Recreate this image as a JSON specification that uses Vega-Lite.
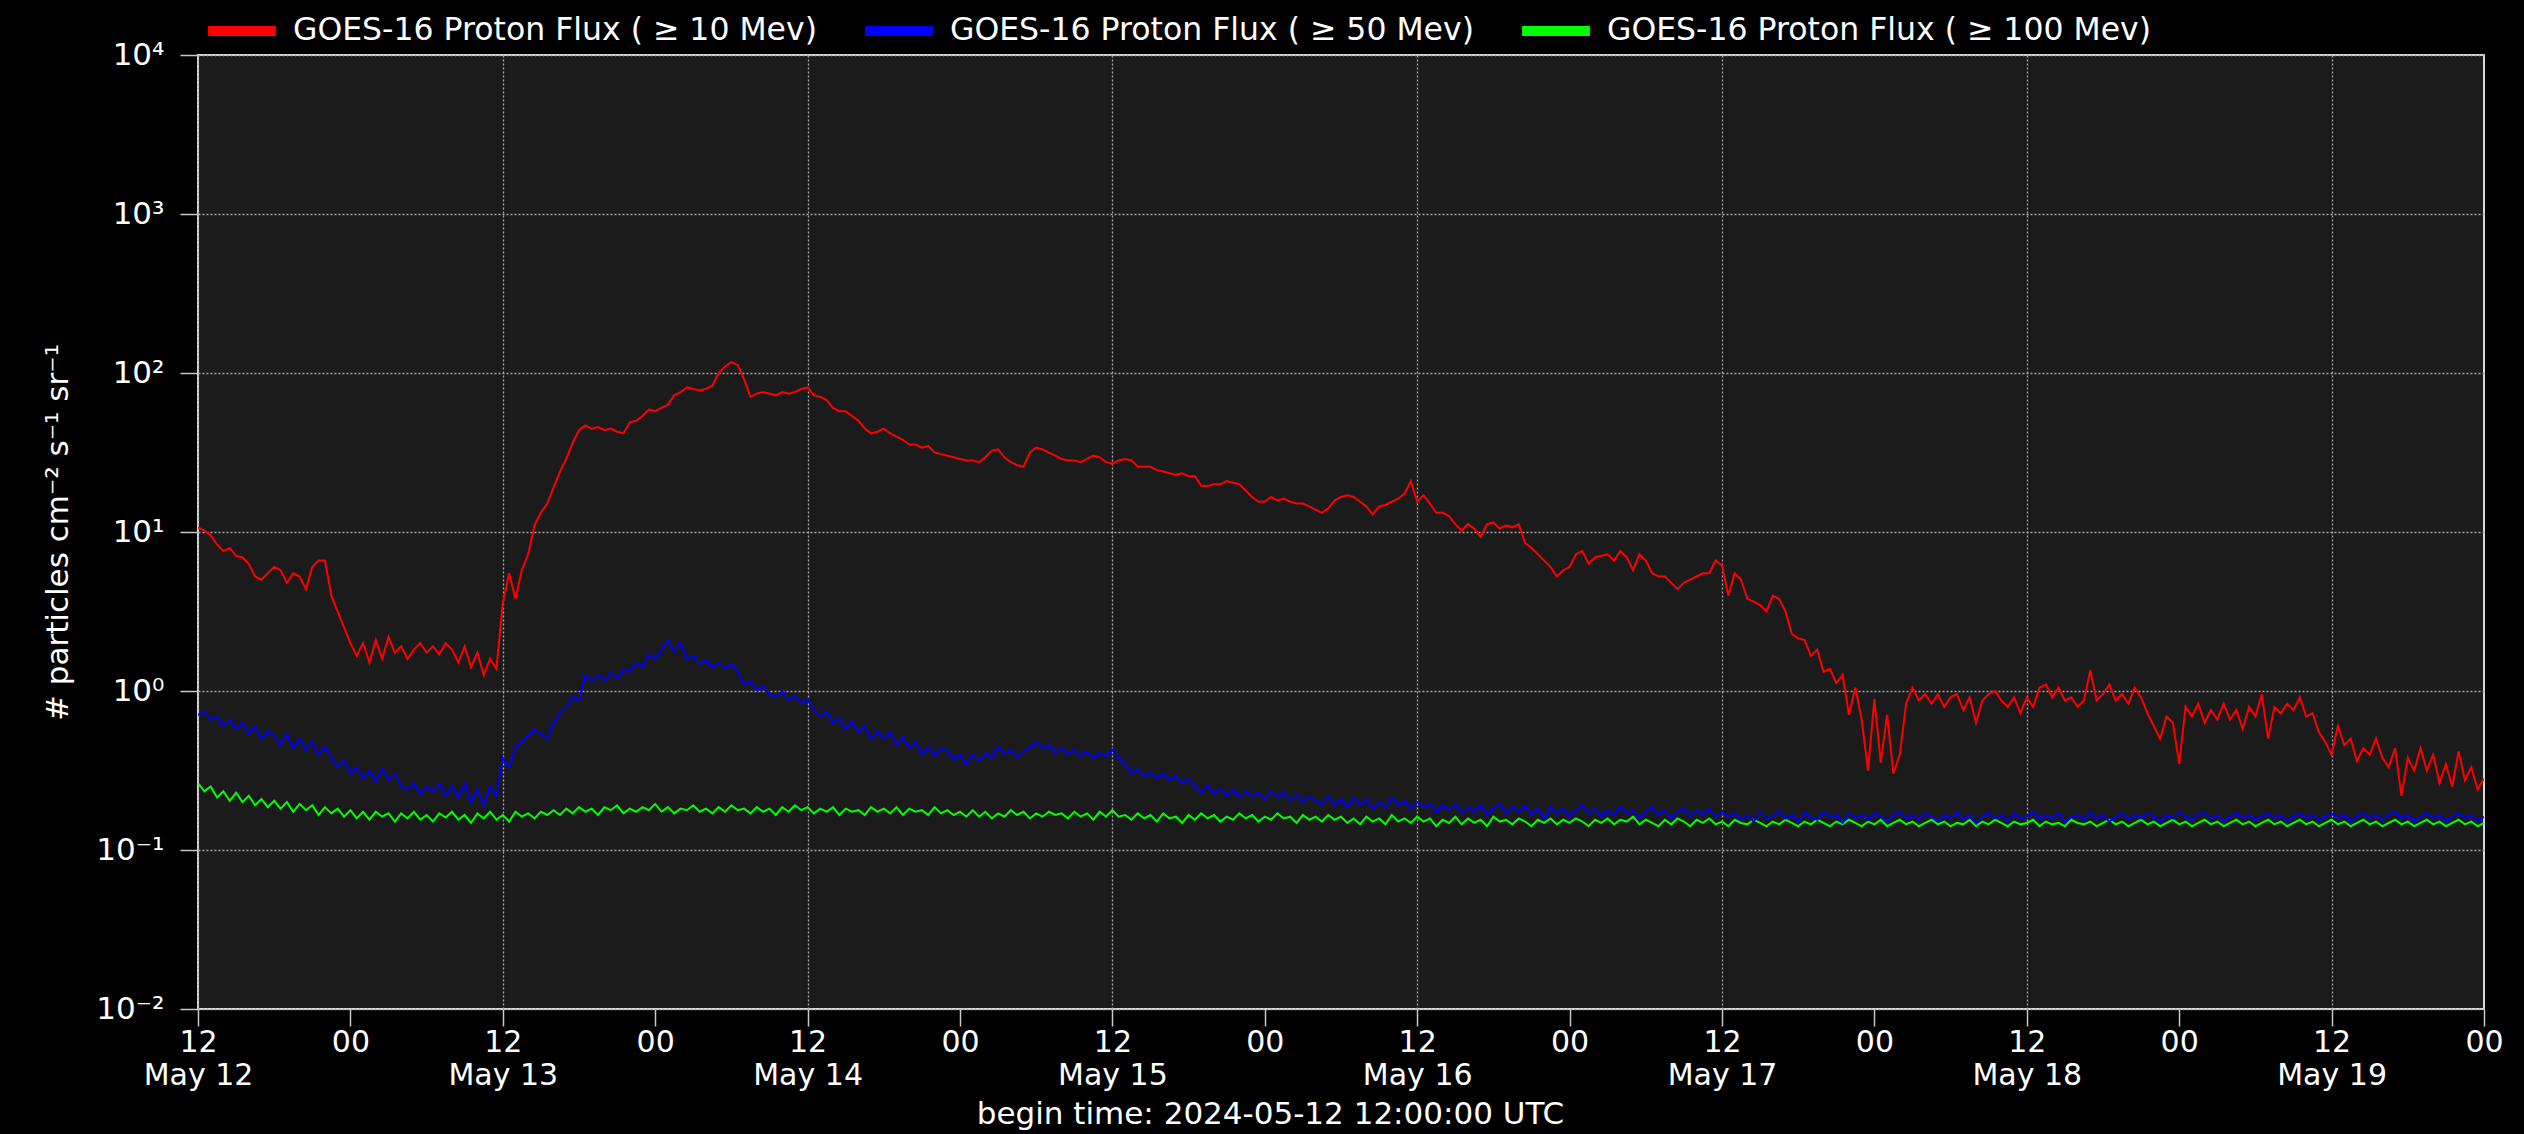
{
"$schema": "https://vega.github.io/schema/vega-lite/v6.json",
"width": 2286, "height": 954,
"autosize": {"type": "none"},
"padding": {"left": 198, "top": 55, "right": 40, "bottom": 125},
"background": "#000000",
"config": {
  "font": "DejaVu Sans",
  "view": {"fill": "#1b1b1b", "stroke": "#d8d8d8", "strokeWidth": 2},
  "axis": {"labelColor": "#ffffff", "titleColor": "#ffffff", "titleFontWeight": "normal", "domain": false, "gridColor": "#a8a8a8", "gridDash": [2, 2], "gridWidth": 1.3, "tickColor": "#c8c8c8", "tickWidth": 1.5}
},
"data": {"values": [
{"t":"2024-05-12T12:00Z","a":10.7,"b":0.708,"c":0.263},
{"t":"2024-05-12T12:30Z","a":10.2,"b":0.741,"c":0.234},
{"t":"2024-05-12T13:00Z","a":9.55,"b":0.661,"c":0.251},
{"t":"2024-05-12T13:30Z","a":8.32,"b":0.692,"c":0.214},
{"t":"2024-05-12T14:00Z","a":7.59,"b":0.603,"c":0.234},
{"t":"2024-05-12T14:30Z","a":7.94,"b":0.661,"c":0.204},
{"t":"2024-05-12T15:00Z","a":7.08,"b":0.575,"c":0.229},
{"t":"2024-05-12T15:30Z","a":6.92,"b":0.631,"c":0.200},
{"t":"2024-05-12T16:00Z","a":6.31,"b":0.537,"c":0.219},
{"t":"2024-05-12T16:30Z","a":5.25,"b":0.603,"c":0.191},
{"t":"2024-05-12T17:00Z","a":5.01,"b":0.501,"c":0.209},
{"t":"2024-05-12T17:30Z","a":5.50,"b":0.562,"c":0.186},
{"t":"2024-05-12T18:00Z","a":6.03,"b":0.525,"c":0.204},
{"t":"2024-05-12T18:30Z","a":5.75,"b":0.457,"c":0.182},
{"t":"2024-05-12T19:00Z","a":4.79,"b":0.537,"c":0.200},
{"t":"2024-05-12T19:30Z","a":5.50,"b":0.437,"c":0.174},
{"t":"2024-05-12T20:00Z","a":5.25,"b":0.501,"c":0.195},
{"t":"2024-05-12T20:30Z","a":4.37,"b":0.427,"c":0.178},
{"t":"2024-05-12T21:00Z","a":6.03,"b":0.479,"c":0.191},
{"t":"2024-05-12T21:30Z","a":6.61,"b":0.398,"c":0.166},
{"t":"2024-05-12T22:00Z","a":6.61,"b":0.447,"c":0.186},
{"t":"2024-05-12T22:30Z","a":3.98,"b":0.380,"c":0.170},
{"t":"2024-05-12T23:00Z","a":3.16,"b":0.331,"c":0.182},
{"t":"2024-05-12T23:30Z","a":2.51,"b":0.363,"c":0.162},
{"t":"2024-05-13T00:00Z","a":2.00,"b":0.302,"c":0.178},
{"t":"2024-05-13T00:30Z","a":1.66,"b":0.331,"c":0.158},
{"t":"2024-05-13T01:00Z","a":2.00,"b":0.282,"c":0.174},
{"t":"2024-05-13T01:30Z","a":1.51,"b":0.316,"c":0.155},
{"t":"2024-05-13T02:00Z","a":2.09,"b":0.269,"c":0.174},
{"t":"2024-05-13T02:30Z","a":1.59,"b":0.324,"c":0.162},
{"t":"2024-05-13T03:00Z","a":2.19,"b":0.275,"c":0.170},
{"t":"2024-05-13T03:30Z","a":1.74,"b":0.302,"c":0.151},
{"t":"2024-05-13T04:00Z","a":1.91,"b":0.251,"c":0.170},
{"t":"2024-05-13T04:30Z","a":1.59,"b":0.240,"c":0.158},
{"t":"2024-05-13T05:00Z","a":1.82,"b":0.263,"c":0.174},
{"t":"2024-05-13T05:30Z","a":2.00,"b":0.224,"c":0.155},
{"t":"2024-05-13T06:00Z","a":1.74,"b":0.251,"c":0.166},
{"t":"2024-05-13T06:30Z","a":1.91,"b":0.234,"c":0.151},
{"t":"2024-05-13T07:00Z","a":1.70,"b":0.263,"c":0.170},
{"t":"2024-05-13T07:30Z","a":2.00,"b":0.219,"c":0.160},
{"t":"2024-05-13T08:00Z","a":1.82,"b":0.251,"c":0.174},
{"t":"2024-05-13T08:30Z","a":1.51,"b":0.214,"c":0.155},
{"t":"2024-05-13T09:00Z","a":1.91,"b":0.263,"c":0.166},
{"t":"2024-05-13T09:30Z","a":1.41,"b":0.200,"c":0.148},
{"t":"2024-05-13T10:00Z","a":1.74,"b":0.240,"c":0.170},
{"t":"2024-05-13T10:30Z","a":1.26,"b":0.191,"c":0.158},
{"t":"2024-05-13T11:00Z","a":1.59,"b":0.251,"c":0.174},
{"t":"2024-05-13T11:30Z","a":1.38,"b":0.219,"c":0.155},
{"t":"2024-05-13T12:00Z","a":3.55,"b":0.380,"c":0.166},
{"t":"2024-05-13T12:30Z","a":5.50,"b":0.331,"c":0.151},
{"t":"2024-05-13T13:00Z","a":3.80,"b":0.437,"c":0.174},
{"t":"2024-05-13T13:30Z","a":5.75,"b":0.479,"c":0.162},
{"t":"2024-05-13T14:00Z","a":7.24,"b":0.525,"c":0.170},
{"t":"2024-05-13T14:30Z","a":11.0,"b":0.575,"c":0.158},
{"t":"2024-05-13T15:00Z","a":13.2,"b":0.537,"c":0.174},
{"t":"2024-05-13T15:30Z","a":15.1,"b":0.501,"c":0.166},
{"t":"2024-05-13T16:00Z","a":19.1,"b":0.631,"c":0.178},
{"t":"2024-05-13T16:30Z","a":24.0,"b":0.724,"c":0.166},
{"t":"2024-05-13T17:00Z","a":28.8,"b":0.794,"c":0.182},
{"t":"2024-05-13T17:30Z","a":36.3,"b":0.912,"c":0.170},
{"t":"2024-05-13T18:00Z","a":43.7,"b":0.871,"c":0.186},
{"t":"2024-05-13T18:30Z","a":46.8,"b":1.26,"c":0.174},
{"t":"2024-05-13T19:00Z","a":44.7,"b":1.15,"c":0.182},
{"t":"2024-05-13T19:30Z","a":45.7,"b":1.26,"c":0.166},
{"t":"2024-05-13T20:00Z","a":43.7,"b":1.17,"c":0.186},
{"t":"2024-05-13T20:30Z","a":44.7,"b":1.29,"c":0.178},
{"t":"2024-05-13T21:00Z","a":42.7,"b":1.20,"c":0.191},
{"t":"2024-05-13T21:30Z","a":41.7,"b":1.35,"c":0.170},
{"t":"2024-05-13T22:00Z","a":49.0,"b":1.32,"c":0.182},
{"t":"2024-05-13T22:30Z","a":50.1,"b":1.51,"c":0.174},
{"t":"2024-05-13T23:00Z","a":53.7,"b":1.41,"c":0.186},
{"t":"2024-05-13T23:30Z","a":58.9,"b":1.70,"c":0.178},
{"t":"2024-05-14T00:00Z","a":57.5,"b":1.59,"c":0.195},
{"t":"2024-05-14T00:30Z","a":60.3,"b":1.82,"c":0.174},
{"t":"2024-05-14T01:00Z","a":63.1,"b":2.09,"c":0.186},
{"t":"2024-05-14T01:30Z","a":72.4,"b":1.78,"c":0.170},
{"t":"2024-05-14T02:00Z","a":75.9,"b":2.00,"c":0.182},
{"t":"2024-05-14T02:30Z","a":81.3,"b":1.59,"c":0.178},
{"t":"2024-05-14T03:00Z","a":79.4,"b":1.66,"c":0.191},
{"t":"2024-05-14T03:30Z","a":77.6,"b":1.48,"c":0.174},
{"t":"2024-05-14T04:00Z","a":79.4,"b":1.55,"c":0.182},
{"t":"2024-05-14T04:30Z","a":83.2,"b":1.41,"c":0.170},
{"t":"2024-05-14T05:00Z","a":100,"b":1.51,"c":0.186},
{"t":"2024-05-14T05:30Z","a":110,"b":1.38,"c":0.174},
{"t":"2024-05-14T06:00Z","a":117,"b":1.48,"c":0.191},
{"t":"2024-05-14T06:30Z","a":112,"b":1.32,"c":0.178},
{"t":"2024-05-14T07:00Z","a":91.2,"b":1.10,"c":0.182},
{"t":"2024-05-14T07:30Z","a":70.8,"b":1.15,"c":0.170},
{"t":"2024-05-14T08:00Z","a":74.1,"b":1.02,"c":0.186},
{"t":"2024-05-14T08:30Z","a":75.9,"b":1.07,"c":0.174},
{"t":"2024-05-14T09:00Z","a":74.1,"b":0.955,"c":0.182},
{"t":"2024-05-14T09:30Z","a":72.4,"b":0.912,"c":0.166},
{"t":"2024-05-14T10:00Z","a":75.9,"b":1.00,"c":0.186},
{"t":"2024-05-14T10:30Z","a":74.1,"b":0.871,"c":0.174},
{"t":"2024-05-14T11:00Z","a":75.9,"b":0.933,"c":0.191},
{"t":"2024-05-14T11:30Z","a":79.4,"b":0.832,"c":0.178},
{"t":"2024-05-14T12:00Z","a":81.3,"b":0.891,"c":0.186},
{"t":"2024-05-14T12:30Z","a":72.4,"b":0.759,"c":0.170},
{"t":"2024-05-14T13:00Z","a":70.8,"b":0.692,"c":0.182},
{"t":"2024-05-14T13:30Z","a":67.6,"b":0.741,"c":0.174},
{"t":"2024-05-14T14:00Z","a":60.3,"b":0.631,"c":0.186},
{"t":"2024-05-14T14:30Z","a":57.5,"b":0.676,"c":0.166},
{"t":"2024-05-14T15:00Z","a":57.5,"b":0.575,"c":0.182},
{"t":"2024-05-14T15:30Z","a":53.7,"b":0.646,"c":0.174},
{"t":"2024-05-14T16:00Z","a":50.1,"b":0.550,"c":0.178},
{"t":"2024-05-14T16:30Z","a":44.7,"b":0.603,"c":0.166},
{"t":"2024-05-14T17:00Z","a":41.7,"b":0.501,"c":0.186},
{"t":"2024-05-14T17:30Z","a":42.7,"b":0.562,"c":0.174},
{"t":"2024-05-14T18:00Z","a":44.7,"b":0.501,"c":0.182},
{"t":"2024-05-14T18:30Z","a":41.7,"b":0.550,"c":0.170},
{"t":"2024-05-14T19:00Z","a":39.8,"b":0.457,"c":0.186},
{"t":"2024-05-14T19:30Z","a":38.0,"b":0.513,"c":0.166},
{"t":"2024-05-14T20:00Z","a":35.5,"b":0.437,"c":0.182},
{"t":"2024-05-14T20:30Z","a":35.5,"b":0.479,"c":0.174},
{"t":"2024-05-14T21:00Z","a":33.9,"b":0.398,"c":0.178},
{"t":"2024-05-14T21:30Z","a":34.7,"b":0.447,"c":0.166},
{"t":"2024-05-14T22:00Z","a":31.6,"b":0.389,"c":0.186},
{"t":"2024-05-14T22:30Z","a":30.9,"b":0.437,"c":0.170},
{"t":"2024-05-14T23:00Z","a":30.2,"b":0.417,"c":0.178},
{"t":"2024-05-14T23:30Z","a":29.5,"b":0.372,"c":0.166},
{"t":"2024-05-15T00:00Z","a":28.8,"b":0.398,"c":0.174},
{"t":"2024-05-15T00:30Z","a":28.2,"b":0.347,"c":0.162},
{"t":"2024-05-15T01:00Z","a":28.2,"b":0.398,"c":0.178},
{"t":"2024-05-15T01:30Z","a":27.5,"b":0.363,"c":0.162},
{"t":"2024-05-15T02:00Z","a":29.5,"b":0.407,"c":0.174},
{"t":"2024-05-15T02:30Z","a":32.4,"b":0.380,"c":0.158},
{"t":"2024-05-15T03:00Z","a":33.1,"b":0.447,"c":0.170},
{"t":"2024-05-15T03:30Z","a":29.5,"b":0.398,"c":0.162},
{"t":"2024-05-15T04:00Z","a":27.5,"b":0.427,"c":0.178},
{"t":"2024-05-15T04:30Z","a":26.3,"b":0.380,"c":0.166},
{"t":"2024-05-15T05:00Z","a":25.7,"b":0.417,"c":0.174},
{"t":"2024-05-15T05:30Z","a":31.6,"b":0.437,"c":0.158},
{"t":"2024-05-15T06:00Z","a":33.9,"b":0.479,"c":0.170},
{"t":"2024-05-15T06:30Z","a":33.1,"b":0.437,"c":0.162},
{"t":"2024-05-15T07:00Z","a":31.6,"b":0.457,"c":0.174},
{"t":"2024-05-15T07:30Z","a":30.2,"b":0.407,"c":0.166},
{"t":"2024-05-15T08:00Z","a":28.8,"b":0.437,"c":0.170},
{"t":"2024-05-15T08:30Z","a":28.2,"b":0.398,"c":0.158},
{"t":"2024-05-15T09:00Z","a":28.2,"b":0.427,"c":0.174},
{"t":"2024-05-15T09:30Z","a":27.5,"b":0.389,"c":0.162},
{"t":"2024-05-15T10:00Z","a":28.8,"b":0.417,"c":0.170},
{"t":"2024-05-15T10:30Z","a":30.2,"b":0.380,"c":0.155},
{"t":"2024-05-15T11:00Z","a":29.5,"b":0.407,"c":0.174},
{"t":"2024-05-15T11:30Z","a":27.5,"b":0.389,"c":0.162},
{"t":"2024-05-15T12:00Z","a":26.9,"b":0.427,"c":0.178},
{"t":"2024-05-15T12:30Z","a":28.2,"b":0.380,"c":0.162},
{"t":"2024-05-15T13:00Z","a":28.8,"b":0.347,"c":0.166},
{"t":"2024-05-15T13:30Z","a":28.2,"b":0.302,"c":0.155},
{"t":"2024-05-15T14:00Z","a":25.7,"b":0.324,"c":0.170},
{"t":"2024-05-15T14:30Z","a":25.7,"b":0.288,"c":0.158},
{"t":"2024-05-15T15:00Z","a":25.7,"b":0.309,"c":0.166},
{"t":"2024-05-15T15:30Z","a":24.5,"b":0.282,"c":0.151},
{"t":"2024-05-15T16:00Z","a":24.0,"b":0.302,"c":0.170},
{"t":"2024-05-15T16:30Z","a":23.4,"b":0.275,"c":0.158},
{"t":"2024-05-15T17:00Z","a":22.9,"b":0.295,"c":0.162},
{"t":"2024-05-15T17:30Z","a":23.4,"b":0.263,"c":0.148},
{"t":"2024-05-15T18:00Z","a":22.4,"b":0.282,"c":0.166},
{"t":"2024-05-15T18:30Z","a":22.4,"b":0.251,"c":0.155},
{"t":"2024-05-15T19:00Z","a":19.5,"b":0.229,"c":0.170},
{"t":"2024-05-15T19:30Z","a":19.5,"b":0.257,"c":0.158},
{"t":"2024-05-15T20:00Z","a":20.0,"b":0.224,"c":0.166},
{"t":"2024-05-15T20:30Z","a":20.0,"b":0.245,"c":0.151},
{"t":"2024-05-15T21:00Z","a":20.9,"b":0.219,"c":0.162},
{"t":"2024-05-15T21:30Z","a":20.4,"b":0.240,"c":0.155},
{"t":"2024-05-15T22:00Z","a":20.0,"b":0.214,"c":0.170},
{"t":"2024-05-15T22:30Z","a":18.2,"b":0.234,"c":0.158},
{"t":"2024-05-15T23:00Z","a":16.6,"b":0.219,"c":0.166},
{"t":"2024-05-15T23:30Z","a":15.5,"b":0.229,"c":0.151},
{"t":"2024-05-16T00:00Z","a":15.5,"b":0.209,"c":0.162},
{"t":"2024-05-16T00:30Z","a":16.6,"b":0.234,"c":0.155},
{"t":"2024-05-16T01:00Z","a":15.8,"b":0.214,"c":0.170},
{"t":"2024-05-16T01:30Z","a":16.2,"b":0.229,"c":0.158},
{"t":"2024-05-16T02:00Z","a":15.5,"b":0.204,"c":0.162},
{"t":"2024-05-16T02:30Z","a":15.1,"b":0.224,"c":0.148},
{"t":"2024-05-16T03:00Z","a":15.1,"b":0.200,"c":0.166},
{"t":"2024-05-16T03:30Z","a":14.5,"b":0.219,"c":0.155},
{"t":"2024-05-16T04:00Z","a":13.8,"b":0.204,"c":0.162},
{"t":"2024-05-16T04:30Z","a":13.2,"b":0.195,"c":0.151},
{"t":"2024-05-16T05:00Z","a":14.1,"b":0.219,"c":0.166},
{"t":"2024-05-16T05:30Z","a":15.8,"b":0.191,"c":0.155},
{"t":"2024-05-16T06:00Z","a":16.6,"b":0.209,"c":0.162},
{"t":"2024-05-16T06:30Z","a":17.0,"b":0.186,"c":0.148},
{"t":"2024-05-16T07:00Z","a":16.6,"b":0.214,"c":0.158},
{"t":"2024-05-16T07:30Z","a":15.5,"b":0.191,"c":0.145},
{"t":"2024-05-16T08:00Z","a":14.5,"b":0.209,"c":0.162},
{"t":"2024-05-16T08:30Z","a":12.9,"b":0.182,"c":0.151},
{"t":"2024-05-16T09:00Z","a":14.5,"b":0.200,"c":0.158},
{"t":"2024-05-16T09:30Z","a":14.8,"b":0.186,"c":0.145},
{"t":"2024-05-16T10:00Z","a":15.5,"b":0.214,"c":0.166},
{"t":"2024-05-16T10:30Z","a":16.2,"b":0.191,"c":0.151},
{"t":"2024-05-16T11:00Z","a":17.4,"b":0.204,"c":0.158},
{"t":"2024-05-16T11:30Z","a":20.9,"b":0.182,"c":0.148},
{"t":"2024-05-16T12:00Z","a":15.5,"b":0.200,"c":0.162},
{"t":"2024-05-16T12:30Z","a":17.0,"b":0.186,"c":0.151},
{"t":"2024-05-16T13:00Z","a":15.1,"b":0.195,"c":0.158},
{"t":"2024-05-16T13:30Z","a":13.2,"b":0.174,"c":0.141},
{"t":"2024-05-16T14:00Z","a":13.2,"b":0.191,"c":0.155},
{"t":"2024-05-16T14:30Z","a":12.6,"b":0.178,"c":0.148},
{"t":"2024-05-16T15:00Z","a":11.2,"b":0.195,"c":0.162},
{"t":"2024-05-16T15:30Z","a":10.2,"b":0.170,"c":0.145},
{"t":"2024-05-16T16:00Z","a":11.2,"b":0.186,"c":0.158},
{"t":"2024-05-16T16:30Z","a":10.5,"b":0.174,"c":0.148},
{"t":"2024-05-16T17:00Z","a":9.33,"b":0.191,"c":0.155},
{"t":"2024-05-16T17:30Z","a":11.2,"b":0.166,"c":0.141},
{"t":"2024-05-16T18:00Z","a":11.5,"b":0.182,"c":0.162},
{"t":"2024-05-16T18:30Z","a":10.5,"b":0.195,"c":0.151},
{"t":"2024-05-16T19:00Z","a":11.0,"b":0.170,"c":0.155},
{"t":"2024-05-16T19:30Z","a":10.7,"b":0.186,"c":0.145},
{"t":"2024-05-16T20:00Z","a":11.2,"b":0.174,"c":0.158},
{"t":"2024-05-16T20:30Z","a":8.51,"b":0.191,"c":0.151},
{"t":"2024-05-16T21:00Z","a":7.94,"b":0.166,"c":0.141},
{"t":"2024-05-16T21:30Z","a":7.24,"b":0.182,"c":0.155},
{"t":"2024-05-16T22:00Z","a":6.61,"b":0.158,"c":0.148},
{"t":"2024-05-16T22:30Z","a":6.03,"b":0.186,"c":0.158},
{"t":"2024-05-16T23:00Z","a":5.25,"b":0.170,"c":0.145},
{"t":"2024-05-16T23:30Z","a":5.75,"b":0.182,"c":0.155},
{"t":"2024-05-17T00:00Z","a":6.03,"b":0.162,"c":0.148},
{"t":"2024-05-17T00:30Z","a":7.24,"b":0.178,"c":0.158},
{"t":"2024-05-17T01:00Z","a":7.59,"b":0.191,"c":0.151},
{"t":"2024-05-17T01:30Z","a":6.31,"b":0.170,"c":0.141},
{"t":"2024-05-17T02:00Z","a":6.92,"b":0.182,"c":0.155},
{"t":"2024-05-17T02:30Z","a":7.08,"b":0.162,"c":0.148},
{"t":"2024-05-17T03:00Z","a":7.24,"b":0.178,"c":0.158},
{"t":"2024-05-17T03:30Z","a":6.61,"b":0.166,"c":0.145},
{"t":"2024-05-17T04:00Z","a":7.59,"b":0.186,"c":0.155},
{"t":"2024-05-17T04:30Z","a":6.92,"b":0.170,"c":0.151},
{"t":"2024-05-17T05:00Z","a":5.75,"b":0.178,"c":0.162},
{"t":"2024-05-17T05:30Z","a":7.24,"b":0.158,"c":0.145},
{"t":"2024-05-17T06:00Z","a":6.61,"b":0.174,"c":0.155},
{"t":"2024-05-17T06:30Z","a":5.50,"b":0.186,"c":0.148},
{"t":"2024-05-17T07:00Z","a":5.25,"b":0.166,"c":0.141},
{"t":"2024-05-17T07:30Z","a":5.25,"b":0.178,"c":0.155},
{"t":"2024-05-17T08:00Z","a":4.79,"b":0.158,"c":0.145},
{"t":"2024-05-17T08:30Z","a":4.37,"b":0.174,"c":0.158},
{"t":"2024-05-17T09:00Z","a":4.79,"b":0.182,"c":0.151},
{"t":"2024-05-17T09:30Z","a":5.01,"b":0.162,"c":0.141},
{"t":"2024-05-17T10:00Z","a":5.25,"b":0.178,"c":0.155},
{"t":"2024-05-17T10:30Z","a":5.50,"b":0.166,"c":0.148},
{"t":"2024-05-17T11:00Z","a":5.50,"b":0.182,"c":0.158},
{"t":"2024-05-17T11:30Z","a":6.61,"b":0.162,"c":0.145},
{"t":"2024-05-17T12:00Z","a":6.17,"b":0.174,"c":0.151},
{"t":"2024-05-17T12:30Z","a":3.98,"b":0.162,"c":0.141},
{"t":"2024-05-17T13:00Z","a":5.50,"b":0.170,"c":0.155},
{"t":"2024-05-17T13:30Z","a":5.01,"b":0.155,"c":0.148},
{"t":"2024-05-17T14:00Z","a":3.80,"b":0.166,"c":0.145},
{"t":"2024-05-17T14:30Z","a":3.63,"b":0.151,"c":0.155},
{"t":"2024-05-17T15:00Z","a":3.47,"b":0.174,"c":0.148},
{"t":"2024-05-17T15:30Z","a":3.16,"b":0.158,"c":0.141},
{"t":"2024-05-17T16:00Z","a":3.98,"b":0.162,"c":0.151},
{"t":"2024-05-17T16:30Z","a":3.80,"b":0.178,"c":0.145},
{"t":"2024-05-17T17:00Z","a":3.16,"b":0.158,"c":0.155},
{"t":"2024-05-17T17:30Z","a":2.29,"b":0.166,"c":0.148},
{"t":"2024-05-17T18:00Z","a":2.14,"b":0.151,"c":0.141},
{"t":"2024-05-17T18:30Z","a":2.09,"b":0.170,"c":0.151},
{"t":"2024-05-17T19:00Z","a":1.66,"b":0.162,"c":0.145},
{"t":"2024-05-17T19:30Z","a":1.82,"b":0.155,"c":0.155},
{"t":"2024-05-17T20:00Z","a":1.32,"b":0.174,"c":0.148},
{"t":"2024-05-17T20:30Z","a":1.38,"b":0.162,"c":0.141},
{"t":"2024-05-17T21:00Z","a":1.12,"b":0.166,"c":0.151},
{"t":"2024-05-17T21:30Z","a":1.26,"b":0.148,"c":0.145},
{"t":"2024-05-17T22:00Z","a":0.708,"b":0.170,"c":0.155},
{"t":"2024-05-17T22:30Z","a":1.05,"b":0.158,"c":0.148},
{"t":"2024-05-17T23:00Z","a":0.661,"b":0.166,"c":0.141},
{"t":"2024-05-17T23:30Z","a":0.316,"b":0.155,"c":0.151},
{"t":"2024-05-18T00:00Z","a":0.891,"b":0.170,"c":0.145},
{"t":"2024-05-18T00:30Z","a":0.355,"b":0.162,"c":0.155},
{"t":"2024-05-18T01:00Z","a":0.708,"b":0.151,"c":0.141},
{"t":"2024-05-18T01:30Z","a":0.302,"b":0.166,"c":0.148},
{"t":"2024-05-18T02:00Z","a":0.398,"b":0.174,"c":0.155},
{"t":"2024-05-18T02:30Z","a":0.832,"b":0.158,"c":0.145},
{"t":"2024-05-18T03:00Z","a":1.05,"b":0.166,"c":0.151},
{"t":"2024-05-18T03:30Z","a":0.871,"b":0.155,"c":0.141},
{"t":"2024-05-18T04:00Z","a":0.955,"b":0.170,"c":0.148},
{"t":"2024-05-18T04:30Z","a":0.832,"b":0.162,"c":0.155},
{"t":"2024-05-18T05:00Z","a":0.955,"b":0.151,"c":0.145},
{"t":"2024-05-18T05:30Z","a":0.794,"b":0.166,"c":0.151},
{"t":"2024-05-18T06:00Z","a":0.912,"b":0.158,"c":0.141},
{"t":"2024-05-18T06:30Z","a":0.955,"b":0.174,"c":0.148},
{"t":"2024-05-18T07:00Z","a":0.759,"b":0.155,"c":0.145},
{"t":"2024-05-18T07:30Z","a":0.912,"b":0.166,"c":0.155},
{"t":"2024-05-18T08:00Z","a":0.631,"b":0.148,"c":0.141},
{"t":"2024-05-18T08:30Z","a":0.871,"b":0.162,"c":0.151},
{"t":"2024-05-18T09:00Z","a":0.955,"b":0.170,"c":0.145},
{"t":"2024-05-18T09:30Z","a":1.00,"b":0.158,"c":0.155},
{"t":"2024-05-18T10:00Z","a":0.871,"b":0.166,"c":0.148},
{"t":"2024-05-18T10:30Z","a":0.794,"b":0.151,"c":0.141},
{"t":"2024-05-18T11:00Z","a":0.912,"b":0.170,"c":0.151},
{"t":"2024-05-18T11:30Z","a":0.724,"b":0.158,"c":0.145},
{"t":"2024-05-18T12:00Z","a":0.912,"b":0.162,"c":0.148},
{"t":"2024-05-18T12:30Z","a":0.794,"b":0.174,"c":0.155},
{"t":"2024-05-18T13:00Z","a":1.05,"b":0.155,"c":0.141},
{"t":"2024-05-18T13:30Z","a":1.10,"b":0.166,"c":0.151},
{"t":"2024-05-18T14:00Z","a":0.912,"b":0.158,"c":0.145},
{"t":"2024-05-18T14:30Z","a":1.05,"b":0.170,"c":0.148},
{"t":"2024-05-18T15:00Z","a":0.871,"b":0.151,"c":0.141},
{"t":"2024-05-18T15:30Z","a":0.912,"b":0.162,"c":0.155},
{"t":"2024-05-18T16:00Z","a":0.794,"b":0.166,"c":0.148},
{"t":"2024-05-18T16:30Z","a":0.871,"b":0.155,"c":0.145},
{"t":"2024-05-18T17:00Z","a":1.35,"b":0.170,"c":0.151},
{"t":"2024-05-18T17:30Z","a":0.871,"b":0.158,"c":0.141},
{"t":"2024-05-18T18:00Z","a":0.955,"b":0.166,"c":0.148},
{"t":"2024-05-18T18:30Z","a":1.10,"b":0.151,"c":0.155},
{"t":"2024-05-18T19:00Z","a":0.871,"b":0.162,"c":0.145},
{"t":"2024-05-18T19:30Z","a":0.955,"b":0.170,"c":0.151},
{"t":"2024-05-18T20:00Z","a":0.832,"b":0.155,"c":0.141},
{"t":"2024-05-18T20:30Z","a":1.05,"b":0.166,"c":0.148},
{"t":"2024-05-18T21:00Z","a":0.912,"b":0.158,"c":0.155},
{"t":"2024-05-18T21:30Z","a":0.724,"b":0.170,"c":0.145},
{"t":"2024-05-18T22:00Z","a":0.603,"b":0.162,"c":0.151},
{"t":"2024-05-18T22:30Z","a":0.501,"b":0.151,"c":0.141},
{"t":"2024-05-18T23:00Z","a":0.692,"b":0.166,"c":0.148},
{"t":"2024-05-18T23:30Z","a":0.631,"b":0.158,"c":0.155},
{"t":"2024-05-19T00:00Z","a":0.347,"b":0.174,"c":0.145},
{"t":"2024-05-19T00:30Z","a":0.794,"b":0.162,"c":0.151},
{"t":"2024-05-19T01:00Z","a":0.692,"b":0.155,"c":0.141},
{"t":"2024-05-19T01:30Z","a":0.832,"b":0.166,"c":0.148},
{"t":"2024-05-19T02:00Z","a":0.631,"b":0.170,"c":0.155},
{"t":"2024-05-19T02:30Z","a":0.759,"b":0.158,"c":0.145},
{"t":"2024-05-19T03:00Z","a":0.661,"b":0.166,"c":0.151},
{"t":"2024-05-19T03:30Z","a":0.832,"b":0.151,"c":0.141},
{"t":"2024-05-19T04:00Z","a":0.661,"b":0.162,"c":0.148},
{"t":"2024-05-19T04:30Z","a":0.759,"b":0.170,"c":0.155},
{"t":"2024-05-19T05:00Z","a":0.575,"b":0.158,"c":0.145},
{"t":"2024-05-19T05:30Z","a":0.794,"b":0.166,"c":0.151},
{"t":"2024-05-19T06:00Z","a":0.692,"b":0.155,"c":0.141},
{"t":"2024-05-19T06:30Z","a":0.955,"b":0.162,"c":0.148},
{"t":"2024-05-19T07:00Z","a":0.501,"b":0.170,"c":0.155},
{"t":"2024-05-19T07:30Z","a":0.794,"b":0.158,"c":0.145},
{"t":"2024-05-19T08:00Z","a":0.724,"b":0.166,"c":0.151},
{"t":"2024-05-19T08:30Z","a":0.832,"b":0.151,"c":0.141},
{"t":"2024-05-19T09:00Z","a":0.759,"b":0.162,"c":0.148},
{"t":"2024-05-19T09:30Z","a":0.912,"b":0.170,"c":0.155},
{"t":"2024-05-19T10:00Z","a":0.692,"b":0.158,"c":0.145},
{"t":"2024-05-19T10:30Z","a":0.724,"b":0.166,"c":0.151},
{"t":"2024-05-19T11:00Z","a":0.550,"b":0.155,"c":0.141},
{"t":"2024-05-19T11:30Z","a":0.479,"b":0.162,"c":0.148},
{"t":"2024-05-19T12:00Z","a":0.398,"b":0.170,"c":0.155},
{"t":"2024-05-19T12:30Z","a":0.603,"b":0.158,"c":0.145},
{"t":"2024-05-19T13:00Z","a":0.457,"b":0.166,"c":0.151},
{"t":"2024-05-19T13:30Z","a":0.501,"b":0.151,"c":0.141},
{"t":"2024-05-19T14:00Z","a":0.363,"b":0.162,"c":0.148},
{"t":"2024-05-19T14:30Z","a":0.437,"b":0.170,"c":0.155},
{"t":"2024-05-19T15:00Z","a":0.398,"b":0.158,"c":0.145},
{"t":"2024-05-19T15:30Z","a":0.501,"b":0.166,"c":0.151},
{"t":"2024-05-19T16:00Z","a":0.380,"b":0.155,"c":0.141},
{"t":"2024-05-19T16:30Z","a":0.331,"b":0.166,"c":0.148},
{"t":"2024-05-19T17:00Z","a":0.437,"b":0.174,"c":0.155},
{"t":"2024-05-19T17:30Z","a":0.219,"b":0.158,"c":0.145},
{"t":"2024-05-19T18:00Z","a":0.380,"b":0.166,"c":0.151},
{"t":"2024-05-19T18:30Z","a":0.316,"b":0.151,"c":0.141},
{"t":"2024-05-19T19:00Z","a":0.437,"b":0.162,"c":0.148},
{"t":"2024-05-19T19:30Z","a":0.316,"b":0.170,"c":0.155},
{"t":"2024-05-19T20:00Z","a":0.398,"b":0.158,"c":0.145},
{"t":"2024-05-19T20:30Z","a":0.263,"b":0.166,"c":0.151},
{"t":"2024-05-19T21:00Z","a":0.347,"b":0.151,"c":0.141},
{"t":"2024-05-19T21:30Z","a":0.251,"b":0.162,"c":0.148},
{"t":"2024-05-19T22:00Z","a":0.417,"b":0.170,"c":0.155},
{"t":"2024-05-19T22:30Z","a":0.275,"b":0.158,"c":0.145},
{"t":"2024-05-19T23:00Z","a":0.331,"b":0.166,"c":0.151},
{"t":"2024-05-19T23:30Z","a":0.240,"b":0.151,"c":0.141},
{"t":"2024-05-20T00:00Z","a":0.282,"b":0.162,"c":0.148}
]},
"encoding": {
  "x": {"field": "t", "type": "temporal",
    "scale": {"type": "utc", "domain": [{"year": 2024, "month": 5, "date": 12, "hours": 12, "utc": true}, {"year": 2024, "month": 5, "date": 20, "hours": 0, "utc": true}]},
    "axis": {
      "values": [
        {"year": 2024, "month": 5, "date": 12, "hours": 12, "utc": true},
        {"year": 2024, "month": 5, "date": 13, "hours": 0, "utc": true},
        {"year": 2024, "month": 5, "date": 13, "hours": 12, "utc": true},
        {"year": 2024, "month": 5, "date": 14, "hours": 0, "utc": true},
        {"year": 2024, "month": 5, "date": 14, "hours": 12, "utc": true},
        {"year": 2024, "month": 5, "date": 15, "hours": 0, "utc": true},
        {"year": 2024, "month": 5, "date": 15, "hours": 12, "utc": true},
        {"year": 2024, "month": 5, "date": 16, "hours": 0, "utc": true},
        {"year": 2024, "month": 5, "date": 16, "hours": 12, "utc": true},
        {"year": 2024, "month": 5, "date": 17, "hours": 0, "utc": true},
        {"year": 2024, "month": 5, "date": 17, "hours": 12, "utc": true},
        {"year": 2024, "month": 5, "date": 18, "hours": 0, "utc": true},
        {"year": 2024, "month": 5, "date": 18, "hours": 12, "utc": true},
        {"year": 2024, "month": 5, "date": 19, "hours": 0, "utc": true},
        {"year": 2024, "month": 5, "date": 19, "hours": 12, "utc": true},
        {"year": 2024, "month": 5, "date": 20, "hours": 0, "utc": true}
      ],
      "labelExpr": "utchours(datum.value) == 12 ? ['12', utcFormat(datum.value, '%b %d')] : '00'",
      "labelFontSize": 30, "labelLineHeight": 33, "labelPadding": 1, "labelFlush": false, "labelOverlap": false,
      "labelAlign": "center", "labelBaseline": "top",
      "tickSize": 17,
      "grid": true,
      "gridOpacity": {"condition": {"test": "utchours(datum.value) == 12", "value": 1}, "value": 0},
      "title": "begin time: 2024-05-12 12:00:00 UTC",
      "titleFontSize": 31, "titleX": 1072, "titleY": 114, "titleAlign": "center", "titleBaseline": "alphabetic", "titleAnchor": null
    }
  },
  "y": {"field": "v", "type": "quantitative",
    "scale": {"type": "log", "domain": [0.01, 10000], "nice": false},
    "axis": {
      "values": [0.01, 0.1, 1, 10, 100, 1000, 10000],
      "labelExpr": "datum.value >= 5000 ? '10⁴' : datum.value >= 500 ? '10³' : datum.value >= 50 ? '10²' : datum.value >= 5 ? '10¹' : datum.value >= 0.5 ? '10⁰' : datum.value >= 0.05 ? '10⁻¹' : '10⁻²'",
      "labelFontSize": 31, "labelPadding": 16, "tickSize": 18, "labelFlush": false, "labelOverlap": false,
      "grid": true,
      "title": "# particles cm⁻² s⁻¹ sr⁻¹",
      "titleFontSize": 31, "titleAngle": -90, "titleX": -140, "titleY": 477, "titleAlign": "center", "titleBaseline": "middle", "titleAnchor": null
    }
  },
  "color": {"type": "nominal",
    "scale": {"domain": ["GOES-16 Proton Flux ( ≥ 10 Mev)", "GOES-16 Proton Flux ( ≥ 50 Mev)", "GOES-16 Proton Flux ( ≥ 100 Mev)"], "range": ["#ff0000", "#0000ff", "#00ff00"]},
    "legend": {"orient": "none", "legendX": 5, "legendY": -63, "direction": "horizontal", "title": null,
      "symbolType": "stroke", "symbolStrokeWidth": 10, "symbolSize": 4600, "symbolOpacity": 1,
      "labelFontSize": 31.5, "labelColor": "#ffffff", "labelLimit": 2000, "labelOffset": 12, "columnPadding": 28}
  }
},
"layer": [
  {"transform": [{"calculate": "datum.c", "as": "v"}], "mark": {"type": "line", "strokeWidth": 2, "clip": true}, "encoding": {"color": {"datum": "GOES-16 Proton Flux ( ≥ 100 Mev)"}}},
  {"transform": [{"calculate": "datum.b", "as": "v"}], "mark": {"type": "line", "strokeWidth": 2, "clip": true}, "encoding": {"color": {"datum": "GOES-16 Proton Flux ( ≥ 50 Mev)"}}},
  {"transform": [{"calculate": "datum.a", "as": "v"}], "mark": {"type": "line", "strokeWidth": 2, "clip": true}, "encoding": {"color": {"datum": "GOES-16 Proton Flux ( ≥ 10 Mev)"}}}
]
}
